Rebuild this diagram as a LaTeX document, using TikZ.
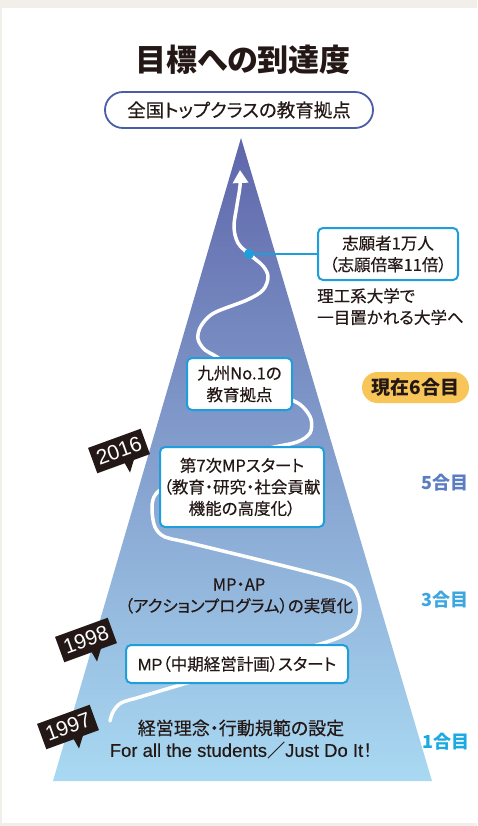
\documentclass[tikz,border=0pt]{standalone}
\usepackage{fontspec}
\newfontfamily\cjk{Noto Sans CJK JP}[RawFeature={+palt}]
\newfontfamily\cjkm{Noto Sans CJK JP}[RawFeature={+palt},FakeBold=0.3]
\newfontfamily\lat{Liberation Sans}[FakeBold=0.3]
\newfontfamily\tagfont{Liberation Sans}
\usetikzlibrary{arrows.meta}
\definecolor{beige}{HTML}{F2EFEA}
\definecolor{ink}{HTML}{231815}
\definecolor{boxcyan}{HTML}{1E9FDC}
\definecolor{pillblue}{HTML}{4B5CA8}
\definecolor{badge}{HTML}{F7C558}
\definecolor{topc}{HTML}{5F66AA}
\definecolor{midc}{HTML}{86A8D8}
\definecolor{botc}{HTML}{A9D9F2}
\definecolor{stepfive}{HTML}{5A7CC2}
\definecolor{stepthree}{HTML}{3EA6DE}
\definecolor{stepone}{HTML}{1AA9E2}
\begin{document}
\begin{tikzpicture}[x=1pt,y=-1pt,
  body/.style={font=\cjkm\fontsize{16.5}{21.5}\selectfont, text=ink, align=center},
  infobox/.style={body, draw=boxcyan, line width=2pt, fill=white, rounded corners=5pt, inner sep=0pt},
  steplabel/.style={font=\cjk\bfseries\fontsize{18}{20}\selectfont},
  yeartag/.style={fill=ink},
  yeartext/.style={font=\tagfont\fontsize{21}{21}\selectfont, text=white, rotate=20},
  pathline/.style={white, line width=3.5pt, line cap=round, line join=round}
]
\useasboundingbox (0,0) rectangle (477,826);
\fill[beige] (0,0) rectangle (477,826);
\fill[white] (2,8) rectangle (477,823);

% title
\node[font=\cjk\bfseries\fontsize{31}{31}\selectfont, text=ink] (title) at (243,60) {目標への到達度};
\node[draw=pillblue, line width=1.8pt, rounded corners=18pt, minimum width=268pt, minimum height=36pt,
      inner sep=0pt, font=\cjkm\fontsize{18.5}{18.5}\selectfont, text=ink] (goal) at (239,110) {全国トップクラスの教育拠点};

% mountain
\shade[top color=topc, middle color=midc, bottom color=botc] (241,138) -- (432,781) -- (53,781) -- cycle;

% winding road
\draw[pathline, -{Triangle[length=13pt,width=15pt]}] plot[smooth, tension=0.55] coordinates {
 (110,721) (113,712) (121,703) (140,697) (187,683) (260,662) (317,645) (340,637) (355,627) (360,610)
 (357,594) (346,583) (300,570) (190,543) (165,537) (155,527) (152,510) (154,497) (163,488)
 (200,465) (270,448) (297,442) (310,433) (311,419) (303,407) (292,400) (250,380) (217,357) (205,350)
 (198,339) (201,326) (214,313) (247,300) (263,290) (268,277) (263,266) (249,254) (238,243)
 (234,227) (237,205) (240,186) (240,170)};

% boxes
\node[infobox, minimum width=140pt, minimum height=52pt] (shigan) at (388,254) {志願者1万人\\（志願倍率11倍）};
\node[circle, fill=boxcyan, inner sep=0pt, minimum size=10pt] (dot) at (249,254) {};
\draw[boxcyan, line width=1.5pt] (dot) -- (shigan.west);
\node[body, anchor=north west, align=left, inner sep=0pt] (rikou) at (317,288) {理工系大学で\\一目置かれる大学へ};

\node[infobox, minimum width=105pt, minimum height=52pt] (kyushu) at (239.5,384) {九州No.1の\\教育拠点};
\node[infobox, minimum width=164pt, minimum height=80pt] (seventh) at (242,487) {第7次MPスタート\\（教育・研究・社会貢献\\機能の高度化）};
\node[body] (mpap) at (239,596) {MP・AP\\（アクションプログラム）の実質化};
\node[infobox, minimum width=222pt, minimum height=38pt] (mp) at (237,664) {{\lat MP}（中期経営計画）スタート};
\node[body, font=\cjkm\fontsize{18}{22}\selectfont] (rinen) at (241,739) {経営理念・行動規範の設定\\{\lat\fontsize{18.5}{22}\selectfont For all the students}／{\lat\fontsize{18.5}{22}\selectfont Just Do It}！};

% right-hand step labels
\node[fill=badge, rounded corners=15.5pt, minimum width=107pt, minimum height=31pt, inner sep=0pt,
      font=\cjk\bfseries\fontsize{19}{19}\selectfont, text=ink] (now) at (415.5,387.5) {現在6合目};
\node[steplabel, text=stepfive] (five) at (445,483) {5合目};
\node[steplabel, text=stepthree] (three) at (445,600) {3合目};
\node[steplabel, text=stepone] (one) at (446,742) {1合目};

% year tags
\begin{scope}[shift={(119,451)}, rotate=20]
  \fill[yeartag] (-28,-13.5) rectangle (28,13.5);
  \fill[yeartag] (1,12) -- (12,12) -- (3,24) -- cycle;
  \node[yeartext] (y2016) at (0,0) {2016};
\end{scope}
\begin{scope}[shift={(86,640)}, rotate=20]
  \fill[yeartag] (-28,-13.5) rectangle (28,13.5);
  \fill[yeartag] (1,12) -- (12,12) -- (3,24) -- cycle;
  \node[yeartext] (y1998) at (0,0) {1998};
\end{scope}
\begin{scope}[shift={(68,727)}, rotate=20]
  \fill[yeartag] (-28,-13.5) rectangle (28,13.5);
  \fill[yeartag] (1,12) -- (12,12) -- (3,24) -- cycle;
  \node[yeartext] (y1997) at (0,0) {1997};
\end{scope}
\end{tikzpicture}
\end{document}
